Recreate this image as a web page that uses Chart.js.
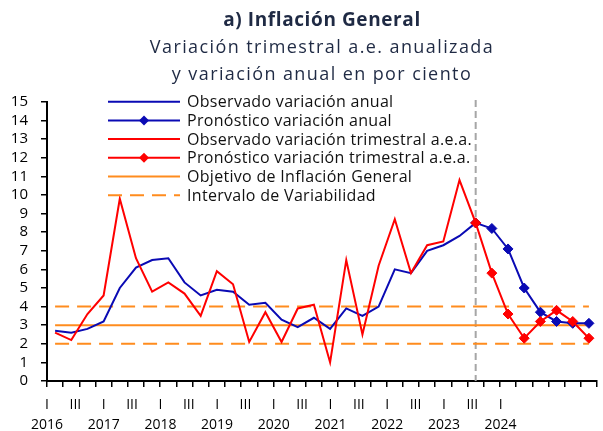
<!DOCTYPE html>
<html>
<head>
<meta charset="utf-8">
<script src="https://cdn.jsdelivr.net/npm/chart.js@4.4.0/dist/chart.umd.min.js"></script>
<style>
  html, body { margin: 0; padding: 0; background: #fff; }
  #wrap { position: relative; width: 603px; height: 431px; overflow: hidden; }
  #wrap canvas { position: absolute; left: 0; top: 0; }
  .t { position: absolute; left: 0; width: 644px; text-align: center; color: #1f2a44;
       font-family: 'Open Sans', sans-serif; white-space: nowrap; line-height: 1; }
</style>
</head>
<body>
<div id="wrap">
  <canvas id="c" width="603" height="431"></canvas>
  <div class="t" style="top:10px;font-size:19px;font-weight:700;letter-spacing:0.6px">a) Inflación General</div>
  <div class="t" style="top:37px;font-size:18px;letter-spacing:1.4px">Variación trimestral a.e. anualizada</div>
  <div class="t" style="top:64px;font-size:18px;letter-spacing:1.4px">y variación anual en por ciento</div>
</div>
<script>
/* Inflación general: observed 2016 I – 2022 III, forecast 2022 III – 2024 II (quarterly). */

const years = [2016, 2017, 2018, 2019, 2020, 2021, 2022, 2023, 2024];
const quarterNames = ["I", "II", "III", "IV"];
// 34 quarters: 2016 I .. 2024 II
const quarters = years.flatMap(y => quarterNames.map(q => y + " " + q)).slice(0, 34);

// variación anual (%), observed
const obsAnual = [2.7, 2.6, 2.8, 3.2, 5.0, 6.1, 6.5, 6.6, 5.3, 4.6, 4.9, 4.8,
                  4.1, 4.2, 3.3, 2.9, 3.4, 2.8, 3.9, 3.5, 4.0, 6.0, 5.8, 7.0,
                  7.3, 7.8, 8.5];
// variación trimestral a.e. anualizada (%), observed
const obsTrim = [2.6, 2.2, 3.6, 4.6, 9.8, 6.6, 4.8, 5.3, 4.7, 3.5, 5.9, 5.2,
                 2.1, 3.7, 2.1, 3.9, 4.1, 1.0, 6.5, 2.5, 6.2, 8.7, 5.8, 7.3,
                 7.5, 10.8, 8.5];
// forecasts, starting at the last observed quarter (2022 III)
const pronAnual = [8.5, 8.2, 7.1, 5.0, 3.7, 3.2, 3.1, 3.1];
const pronTrim = [8.5, 5.8, 3.6, 2.3, 3.2, 3.8, 3.2, 2.3];
const forecastStart = "2022 III";

const objetivo = 3;
const intervalo = [2, 4];

const yTicks = { min: 0, max: 15, step: 1 };
// the text labels under the axis (they sit on their own, tighter spacing than the quarters)
const xTickLabels = [["I", "2016"], "III", ["I", "2017"], "III", ["I", "2018"], "III",
                     ["I", "2019"], "III", ["I", "2020"], "III", ["I", "2021"], "III",
                     ["I", "2022"], "III", ["I", "2023"], "III", ["I", "2024"]];
const xTickLabelPos = [0, 2, 4, 6, 8, 10, 12, 14, 16, 18, 20, 22, 24, 26, 28, 30, 32];

const legendLabels = ["Observado variación anual", "Pronóstico variación anual",
  "Observado variación trimestral a.e.a.", "Pronóstico variación trimestral a.e.a.",
  "Objetivo de Inflación General", "Intervalo de Variabilidad"];

const BLUE = "#0a0ab4", RED = "#ff0000", ORANGE = "#ff8c1e";
const FONT = "'Open Sans', sans-serif";

const n = quarters.length;
const fsIdx = quarters.indexOf(forecastStart);
const pad = (arr, before) => Array(before).fill(null).concat(arr, Array(Math.max(0, n - before - arr.length)).fill(null));
const flat = v => Array(n).fill(v);

const dsLine = (label, data, color, extra) => Object.assign({
  label, data, borderColor: color, backgroundColor: color, borderWidth: 2,
  pointRadius: 0, tension: 0, xAxisID: "x", yAxisID: "y",
}, extra || {});
const diamond = { pointStyle: "rectRot", pointRadius: 5, pointBorderWidth: 1 };

// dataset 0 is painted on top
const datasets = [
  dsLine(legendLabels[3], pad(pronTrim, fsIdx), RED, diamond),
  dsLine(legendLabels[2], pad(obsTrim, 0), RED),
  dsLine(legendLabels[1], pad(pronAnual, fsIdx), BLUE, diamond),
  dsLine(legendLabels[0], pad(obsAnual, 0), BLUE),
  dsLine(legendLabels[4], flat(objetivo), ORANGE),
  dsLine(legendLabels[5], flat(intervalo[0]), ORANGE, { borderDash: [14, 8] }),
  dsLine(legendLabels[5] + " sup", flat(intervalo[1]), ORANGE, { borderDash: [14, 8] }),
];
const legendOrder = [3, 2, 1, 0, 4, 5];

// dashed vertical separator at the start of the forecast
const forecastLine = {
  id: "forecastLine",
  beforeDatasetsDraw(chart) {
    const { ctx, chartArea } = chart;
    const x = chart.scales.x.getPixelForValue(fsIdx);
    ctx.save();
    ctx.strokeStyle = "#a6a6a6";
    ctx.lineWidth = 2;
    ctx.setLineDash([7, 4]);
    ctx.beginPath();
    ctx.moveTo(x, chartArea.top - 2);
    ctx.lineTo(x, chartArea.bottom);
    ctx.stroke();
    ctx.restore();
  },
};

// legend drawn inside the plot, top-left, like the Excel original
const innerLegend = {
  id: "innerLegend",
  afterDraw(chart) {
    const ctx = chart.ctx;
    const x0 = 108, x1 = 180, tx = 187, y0 = 101.7, dy = 18.7;
    ctx.save();
    ctx.font = "16px " + FONT;
    ctx.letterSpacing = "0.3px";
    ctx.textBaseline = "middle";
    legendOrder.forEach((di, row) => {
      const ds = chart.data.datasets[di];
      const y = y0 + row * dy;
      ctx.strokeStyle = ds.borderColor;
      ctx.lineWidth = ds.borderWidth;
      ctx.setLineDash(ds.borderDash || []);
      ctx.beginPath(); ctx.moveTo(x0, y); ctx.lineTo(x1, y); ctx.stroke();
      ctx.setLineDash([]);
      if (ds.pointStyle === "rectRot") {
        const cx = (x0 + x1) / 2, r = ds.pointRadius;
        ctx.fillStyle = ds.borderColor;
        ctx.beginPath();
        ctx.moveTo(cx, y - r); ctx.lineTo(cx + r, y); ctx.lineTo(cx, y + r); ctx.lineTo(cx - r, y);
        ctx.closePath(); ctx.fill();
      }
      ctx.fillStyle = "#111";
      ctx.fillText(legendLabels[row], tx, y + 1);
    });
    ctx.restore();
  },
};

new Chart(document.getElementById("c"), {
  type: "line",
  data: { labels: quarters, datasets },
  plugins: [forecastLine, innerLegend],
  options: {
    responsive: false,
    animation: false,
    events: [],
    layout: { padding: { top: 102, right: 1, left: 0, bottom: 0 } },
    plugins: { legend: { display: false }, title: { display: false }, tooltip: { enabled: false } },
    scales: {
      x: {
        type: "category",
        offset: true,
        position: "bottom",
        grid: { display: true, drawOnChartArea: false, drawTicks: true, tickLength: 6, offset: true,
                color: "#000", lineWidth: 1.5 },
        border: { display: true, color: "#000", width: 2 },
        ticks: { display: false, autoSkip: false },
        afterFit(s) { s.height = 6; },
      },
      xLab: {
        type: "linear",
        position: "bottom",
        min: 0,
        max: 38.8,
        grid: { display: false, drawTicks: false },
        border: { display: false },
        afterBuildTicks(s) { s.ticks = xTickLabelPos.map(v => ({ value: v })); },
        ticks: {
          autoSkip: false, maxRotation: 0, padding: 8, color: "#000",
          font: { family: FONT, size: 14, lineHeight: 20 / 14 },
          callback: (v, i) => xTickLabels[i],
        },
        afterFit(s) { s.height = 44; },
      },
      y: {
        min: yTicks.min,
        max: yTicks.max,
        grid: { display: true, drawOnChartArea: false, drawTicks: true, tickLength: 6, color: "#000", lineWidth: 1.5 },
        border: { display: true, color: "#000", width: 2 },
        ticks: { stepSize: yTicks.step, autoSkip: false, padding: 13, color: "#000",
                 font: { family: FONT, size: 15 } },
        afterFit(s) { s.width = 47; },
      },
    },
  },
});
</script>
</body>
</html>
